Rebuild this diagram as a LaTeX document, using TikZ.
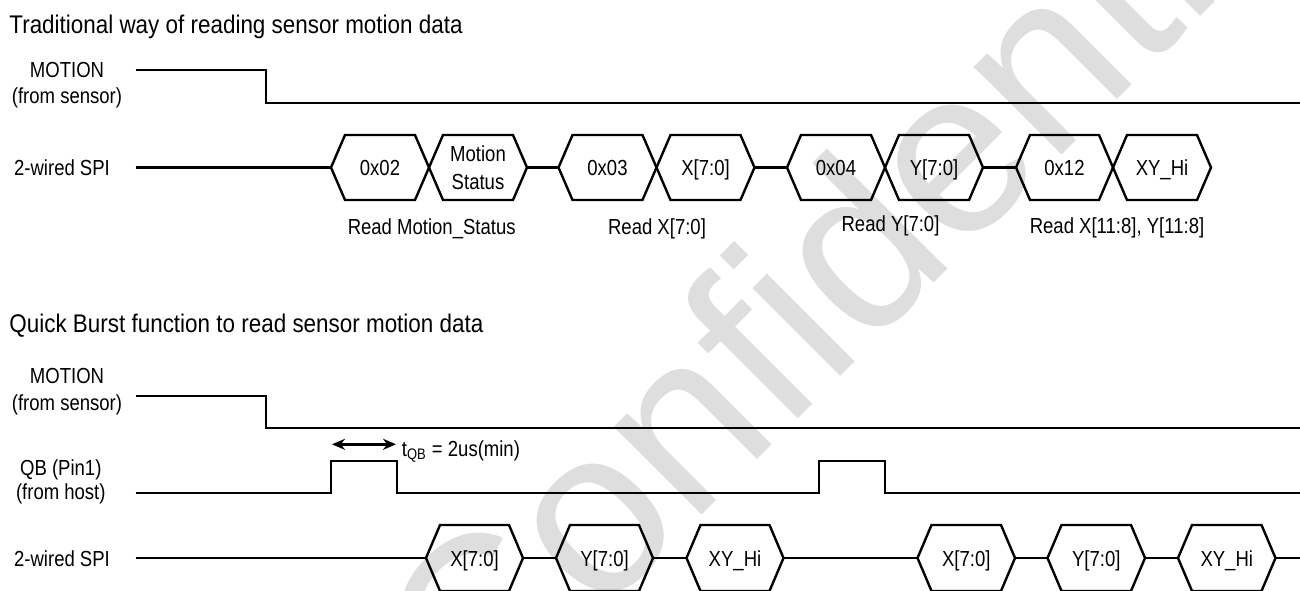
\documentclass[tikz,border=0pt]{standalone}
\usepackage{fontspec}
\setmainfont{Liberation Sans}[FakeStretch=0.85]
\newfontfamily\titlefont{Liberation Sans}[FakeStretch=0.88]
\newfontfamily\wmfont{Liberation Sans}
\usetikzlibrary{arrows.meta}
\newcommand{\hexa}[4]{% left point x, width, mid y, half height
  \draw[sig] (#1,#3) -- ++(14,-#4) -- ++(#2-28,0) -- ++(14,#4) -- ++(-14,#4) -- ++(28-#2,0) -- cycle;}
\begin{document}
\begin{tikzpicture}[x=0.5pt,y=-0.5pt,
  sig/.style={line width=1.2pt, line join=miter, line cap=butt},
  lbl/.style={inner sep=0pt, anchor=base, font=\fontsize{10.9pt}{13pt}\selectfont},
  ttl/.style={inner sep=0pt, anchor=base west, font=\titlefont\fontsize{12.75pt}{15pt}\selectfont},
  wm/.style={inner sep=0pt, anchor=base west, text=black!13, font=\wmfont\fontsize{117.5pt}{120pt}\selectfont}]
\useasboundingbox (0,0) rectangle (1300,590);
% watermark
\node[wm, rotate=45] (wmark) at (478,739) {Confidential};

% ---------- Section 1 ----------
\node[ttl] (t1) at (9,33.3) {Traditional way of reading sensor motion data};
\node[lbl] (m1a) at (67,77.3) {MOTION};
\node[lbl] (m1b) at (67,103.3) {(from sensor)};
\node[lbl] (s1) at (62,175.7) {2-wired SPI};
\draw[sig] (135.5,70) -- (265.7,70) -- (265.7,103) -- (1302,103);

\hexa{331}{98}{167.5}{32.5}
\hexa{429}{98}{167.5}{32.5}
\hexa{558.5}{98}{167.5}{32.5}
\hexa{656.5}{98}{167.5}{32.5}
\hexa{787}{98}{167.5}{32.5}
\hexa{885}{98}{167.5}{32.5}
\hexa{1016}{97}{167.5}{32.5}
\hexa{1113}{98}{167.5}{32.5}
\draw[sig] (135.5,167.5) -- (331,167.5);
\draw[sig] (527,167.5) -- (558.5,167.5);
\draw[sig] (754.5,167.5) -- (787,167.5);
\draw[sig] (983,167.5) -- (1016,167.5);

\node[lbl] (h1) at (380,175.5) {0x02};
\node[lbl, anchor=center, align=center, font=\fontsize{10.9pt}{13.8pt}\selectfont] (h2) at (478,167.7) {Motion\\Status};
\node[lbl] (h3) at (607.5,175.5) {0x03};
\node[lbl] (h4) at (705.5,175.5) {X[7:0]};
\node[lbl] (h5) at (836,175.5) {0x04};
\node[lbl] (h6) at (934,175.5) {Y[7:0]};
\node[lbl] (h7) at (1064.5,175.5) {0x12};
\node[lbl] (h8) at (1162,175.5) {XY\_Hi};

\node[lbl] (r1) at (431.7,234) {Read Motion\_Status};
\node[lbl] (r2) at (657,234) {Read X[7:0]};
\node[lbl] (r3) at (890.5,231.7) {Read Y[7:0]};
\node[lbl] (r4) at (1117,233.3) {Read X[11:8], Y[11:8]};

% ---------- Section 2 ----------
\node[ttl] (t2) at (9,332.7) {Quick Burst function to read sensor motion data};
\node[lbl] (m2a) at (67,383.3) {MOTION};
\node[lbl] (m2b) at (67,410) {(from sensor)};
\node[lbl] (q2a) at (60.8,475.7) {QB (Pin1)};
\node[lbl] (q2b) at (60.8,499.7) {(from host)};
\node[lbl] (s2) at (62,566.7) {2-wired SPI};
\draw[sig] (135.5,396) -- (266,396) -- (266,428) -- (1302,428);
\draw[sig] (135.5,493) -- (331,493) -- (331,461) -- (397,461) -- (397,493)
  -- (819,493) -- (819,461) -- (885,461) -- (885,493) -- (1302,493);

\coordinate (qbL) at (332,444.3);
\coordinate (qbR) at (396,444.3);
\draw[sig, {Stealth[length=6.5pt,width=5.5pt]}-{Stealth[length=6.5pt,width=5.5pt]}] (qbL) -- (qbR);
\node[lbl, anchor=base west] (tqb) at (401.5,456.7) {t\textsubscript{QB} = 2us(min)};

\hexa{426}{97}{558}{33}
\hexa{556}{97}{558}{33}
\hexa{686.5}{97}{558}{33}
\hexa{917.5}{97.5}{558}{33}
\hexa{1047.5}{97.5}{558}{33}
\hexa{1178}{97.5}{558}{33}
\draw[sig] (135.5,558) -- (426,558);
\draw[sig] (523,558) -- (556,558);
\draw[sig] (653,558) -- (686.5,558);
\draw[sig] (783.5,558) -- (917.5,558);
\draw[sig] (1015,558) -- (1047.5,558);
\draw[sig] (1145,558) -- (1178,558);
\draw[sig] (1275.5,558) -- (1302,558);

\node[lbl] (b1) at (474.5,566) {X[7:0]};
\node[lbl] (b2) at (604.5,566) {Y[7:0]};
\node[lbl] (b3) at (735,566) {XY\_Hi};
\node[lbl] (b4) at (966.25,566) {X[7:0]};
\node[lbl] (b5) at (1096.25,566) {Y[7:0]};
\node[lbl] (b6) at (1226.75,566) {XY\_Hi};
\end{tikzpicture}
\end{document}
